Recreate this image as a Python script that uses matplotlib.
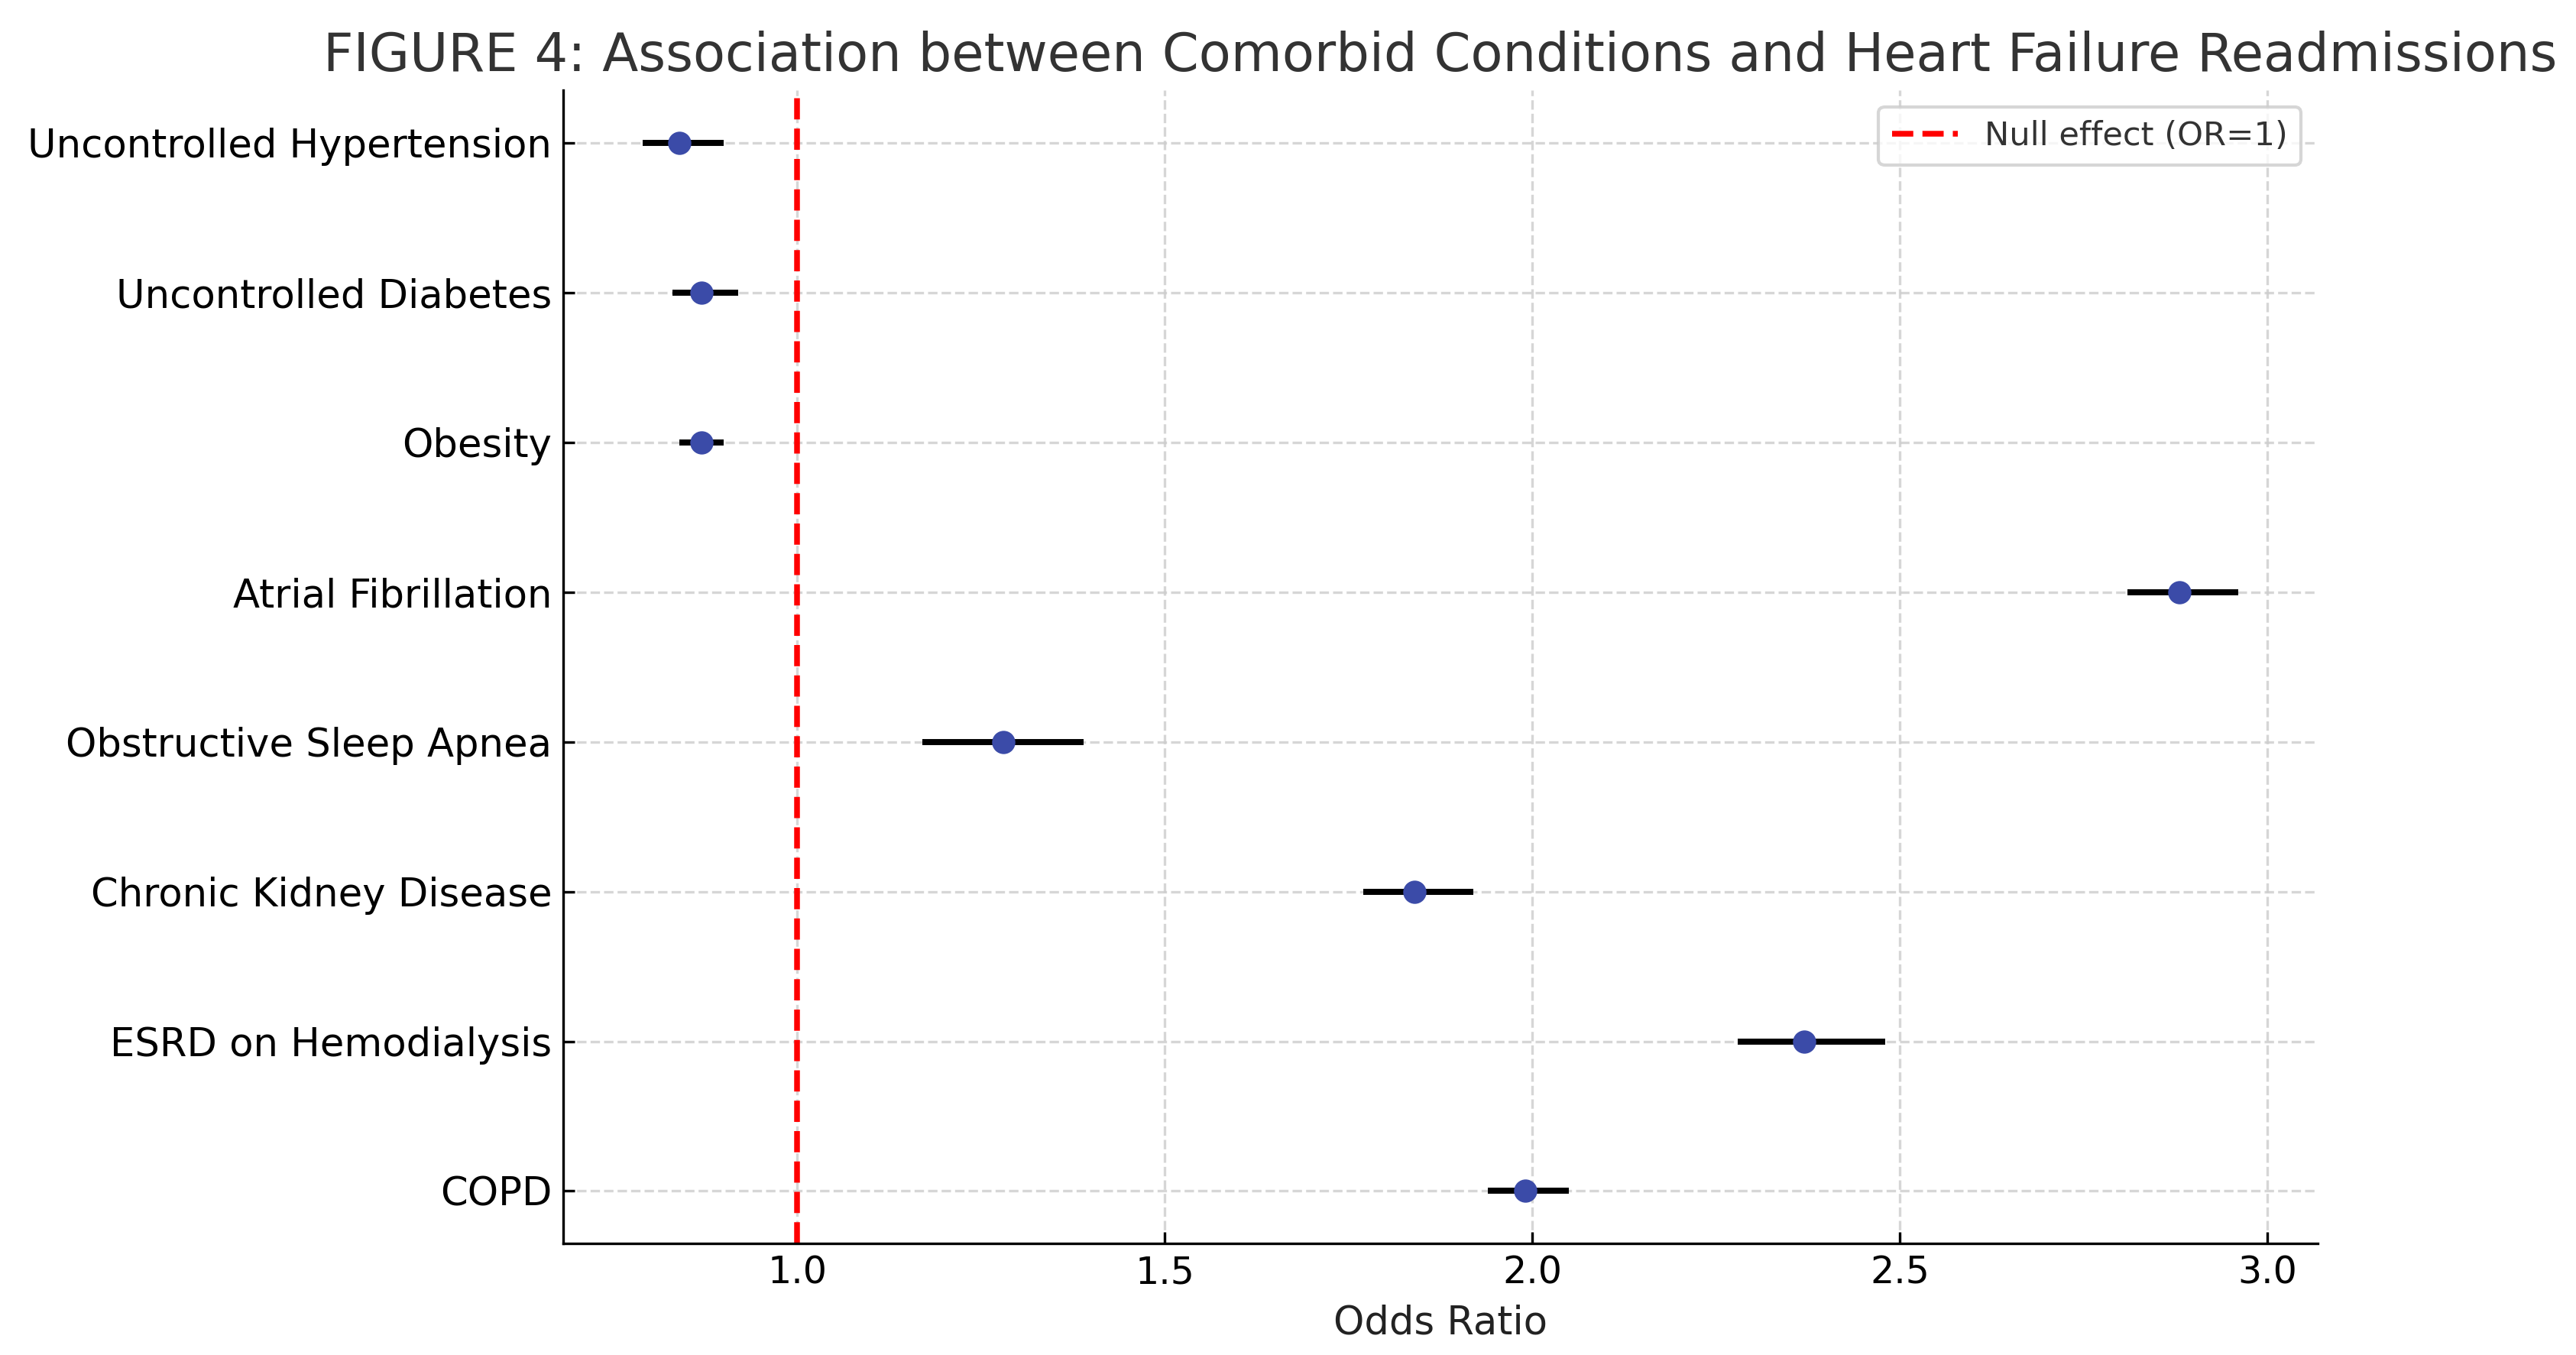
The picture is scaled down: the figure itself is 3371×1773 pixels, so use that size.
import numpy as np
import matplotlib
matplotlib.use("Agg")
import matplotlib.pyplot as plt

# forest plot data, top to bottom
conditions = ["Uncontrolled Hypertension", "Uncontrolled Diabetes", "Obesity",
              "Atrial Fibrillation", "Obstructive Sleep Apnea",
              "Chronic Kidney Disease", "ESRD on Hemodialysis", "COPD"]
odds_ratio = [0.84, 0.87, 0.87, 2.88, 1.28, 1.84, 2.37, 1.99]
ci_low = [0.79, 0.83, 0.84, 2.81, 1.17, 1.77, 2.28, 1.94]
ci_high = [0.90, 0.92, 0.90, 2.96, 1.39, 1.92, 2.48, 2.05]

plt.rcParams['font.family'] = 'DejaVu Sans'

fig = plt.figure(figsize=(3371 / 300, 1773 / 300), dpi=300)
ax = fig.add_axes([0.2186, 0.0823, 0.8997 - 0.2186, 0.9334 - 0.0823])

y = np.arange(len(conditions))
orr = np.array(odds_ratio)
err = [orr - np.array(ci_low), np.array(ci_high) - orr]

ax.errorbar(orr, y, xerr=err, fmt='o', color='#3B4BA8', ecolor='black',
            elinewidth=1.9, capsize=0, markersize=6.3, zorder=3)
ax.axvline(1, color='red', linestyle='--', linewidth=1.8,
           label='Null effect (OR=1)', zorder=2)

ax.set_yticks(y)
ax.set_yticklabels(conditions, fontsize=12.3)
ax.invert_yaxis()
ax.set_xticks([1.0, 1.5, 2.0, 2.5, 3.0])
ax.tick_params(axis='x', labelsize=11.8)
ax.tick_params(direction='in', length=3.5)

ax.set_xlabel('Odds Ratio', fontsize=12.3, color='#222222')
ax.set_title('FIGURE 4: Association between Comorbid Conditions and Heart Failure Readmissions',
             fontsize=16.5, color='#333333')

ax.grid(True, linestyle='--', color='#cccccc', linewidth=0.8, alpha=0.8)
ax.set_axisbelow(True)
for s in ['top', 'right']:
    ax.spines[s].set_visible(False)

leg = ax.legend(loc='upper right', fontsize=10.4)
for t in leg.get_texts():
    t.set_color('#333333')

fig.savefig('out.png', dpi=300)
